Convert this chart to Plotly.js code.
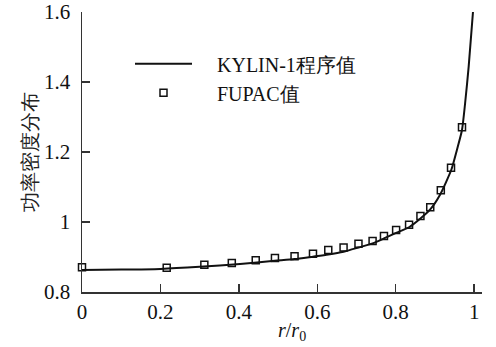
<!DOCTYPE html>
<html>
<head>
<meta charset="utf-8">
<script src="https://cdn.plot.ly/plotly-3.0.1.min.js"></script>
</head>
<body style="margin:0">
<div id="chart"></div>
<script>
// KYLIN-1 program curve
var lineX = [0, 0.1, 0.2, 0.3, 0.403, 0.491, 0.542, 0.589, 0.628, 0.667, 0.705, 0.741, 0.770, 0.801, 0.834, 0.863, 0.888, 0.913, 0.942, 0.956, 0.969, 0.977, 0.986, 0.997];
var lineY = [0.863, 0.864, 0.866, 0.872, 0.880, 0.889, 0.894, 0.901, 0.907, 0.915, 0.927, 0.939, 0.953, 0.969, 0.985, 1.010, 1.036, 1.078, 1.150, 1.206, 1.263, 1.340, 1.444, 1.600];
// FUPAC values
var ptX = [0, 0.216, 0.312, 0.382, 0.443, 0.492, 0.542, 0.589, 0.628, 0.667, 0.705, 0.741, 0.770, 0.801, 0.834, 0.863, 0.888, 0.915, 0.941, 0.969, 0.997];
var ptY = [0.871, 0.869, 0.878, 0.883, 0.891, 0.897, 0.902, 0.909, 0.920, 0.927, 0.938, 0.946, 0.960, 0.977, 0.992, 1.017, 1.042, 1.091, 1.155, 1.271, 1.603];
var lineName = "KYLIN-1程序值";
var ptName = "FUPAC值";
var xTicks = [0, 0.2, 0.4, 0.6, 0.8, 1];
var xTickText = ["0", "0.2", "0.4", "0.6", "0.8", "1"];
var yTicks = [0.8, 1, 1.2, 1.4, 1.6];
var yTickText = ["0.8", "1", "1.2", "1.4", "1.6"];

var FONT = "Times New Roman, serif";

var traces = [
  {x: lineX, y: lineY, mode: "lines", name: "\u00a0\u00a0\u00a0\u00a0" + lineName,
   line: {color: "#111", width: 2, shape: "spline", smoothing: 0.6}, cliponaxis: false},
  {x: ptX, y: ptY, mode: "markers", name: "\u00a0\u00a0\u00a0\u00a0" + ptName,
   marker: {symbol: "square-open", size: 7, color: "#111", line: {width: 1.5, color: "#111"}},
   cliponaxis: false}
];

var layout = {
  width: 496, height: 347,
  margin: {l: 82, r: 14, t: 12, b: 55},
  paper_bgcolor: "#fff", plot_bgcolor: "#fff",
  font: {family: FONT, size: 21, color: "#111"},
  showlegend: true,
  legend: {x: 0.12, y: 0.885, xanchor: "left", yanchor: "top", bgcolor: "rgba(0,0,0,0)",
           font: {family: FONT, size: 20, color: "#111"}, itemwidth: 57, tracegroupgap: 0},
  xaxis: {range: [0, 1.02], tickvals: xTicks, ticktext: xTickText, ticks: "inside", ticklen: 8,
          tickwidth: 1.5, tickcolor: "#333", showline: true, linecolor: "#333", linewidth: 1.5,
          showgrid: false, zeroline: false, tickfont: {family: FONT, size: 21, color: "#111"}},
  yaxis: {range: [0.8, 1.6], tickvals: yTicks, ticktext: yTickText, ticks: "inside", ticklen: 8,
          tickwidth: 1.5, tickcolor: "#333", showline: true, linecolor: "#333", linewidth: 1.5,
          showgrid: false, zeroline: false, ticklabelstandoff: 6,
          tickfont: {family: FONT, size: 21, color: "#111"},
          title: {text: "功率密度分布", font: {family: FONT, size: 20, color: "#222"}, standoff: 1}},
  annotations: [
    {xref: "paper", yref: "paper", x: 0.525, y: -0.09, yanchor: "top", showarrow: false,
     text: "<i>r</i>/<i>r</i><sub>0</sub>", font: {family: FONT, size: 20, color: "#111"}}
  ]
};

Plotly.newPlot("chart", traces, layout, {displayModeBar: false, staticPlot: true});
</script>
</body>
</html>
